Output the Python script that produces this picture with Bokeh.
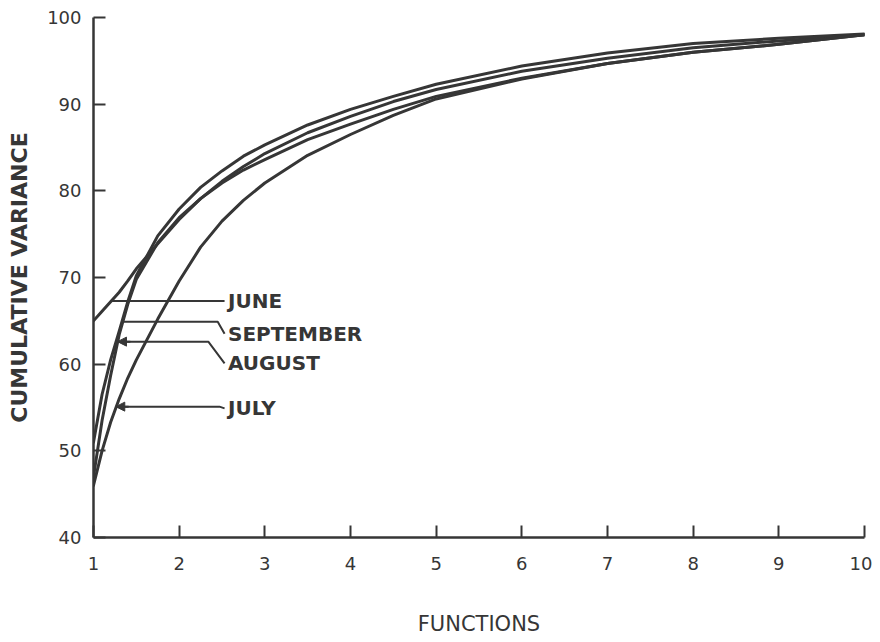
from bokeh.plotting import figure
from bokeh.models import Range1d, FixedTicker, Arrow, NormalHead, ColumnDataSource
from bokeh.core.properties import value
from bokeh.embed import file_html
from bokeh.resources import INLINE

# ---- data ----
functions = [1, 1.1, 1.2, 1.3, 1.4, 1.5, 1.75, 2, 2.25, 2.5, 2.75, 3, 3.5, 4, 4.5, 5, 6, 7, 8, 9, 10]
june = [65.0, 66.1, 67.2, 68.3, 69.6, 71.0, 73.9, 76.7, 79.1, 81.1, 82.8, 84.3, 86.7, 88.6, 90.3, 91.7, 93.8, 95.3, 96.5, 97.3, 98.0]
september = [51.0, 56.5, 60.5, 63.8, 67.2, 70.2, 74.8, 77.9, 80.4, 82.3, 84.0, 85.3, 87.6, 89.4, 90.9, 92.3, 94.4, 95.9, 97.0, 97.6, 98.1]
august = [47.0, 53.5, 58.7, 63.4, 66.9, 69.8, 74.0, 76.9, 79.1, 80.9, 82.4, 83.6, 85.9, 87.7, 89.4, 90.9, 93.0, 94.7, 96.0, 96.9, 98.0]
july = [46.0, 50.0, 53.3, 56.0, 58.4, 60.5, 65.2, 69.6, 73.5, 76.5, 78.9, 80.9, 84.1, 86.5, 88.7, 90.6, 92.9, 94.7, 96.0, 96.9, 98.0]

x_ticks = [1, 2, 3, 4, 5, 6, 7, 8, 9, 10]
y_ticks = [40, 50, 60, 70, 80, 90, 100]

month_labels = ["JUNE", "SEPTEMBER", "AUGUST", "JULY"]
# leader lines: where they touch the curve, the elbow, and the label anchor
pointer_start_x = [1.21, 1.34, 1.28, 1.26]
pointer_y = [67.3, 64.9, 62.6, 55.1]
pointer_elbow_x = [2.53, 2.45, 2.34, 2.47]
label_y = [67.3, 63.5, 60.1, 54.9]
label_x = 2.57
pointer_end_x = 2.53

INK = "#363636"

p = figure(
    frame_width=771, frame_height=520,
    min_border_left=93, min_border_right=8, min_border_top=17, min_border_bottom=105,
    x_range=Range1d(1, 10), y_range=Range1d(40, 100),
    output_backend="svg", toolbar_location=None,
    background_fill_color="white", border_fill_color="white",
)
p.outline_line_color = None
p.xgrid.visible = False
p.ygrid.visible = False

for series in (june, september, august, july):
    p.line(functions, series, line_color=INK, line_width=3, line_join="round", line_cap="round")

# leader lines
xs = []
ys = []
for sx, py, ex, ly in zip(pointer_start_x, pointer_y, pointer_elbow_x, label_y):
    xs.append([sx, ex, pointer_end_x])
    ys.append([py, py, ly])
p.multi_line(xs, ys, line_color=INK, line_width=2)

for i in (2, 3):
    p.add_layout(Arrow(
        x_start=pointer_start_x[i] + 0.15, y_start=pointer_y[i],
        x_end=pointer_start_x[i], y_end=pointer_y[i],
        line_color=INK, line_width=2,
        end=NormalHead(size=9, fill_color=INK, line_color=INK),
    ))

src = ColumnDataSource(dict(x=[label_x] * len(month_labels), y=label_y, text=month_labels))
p.text(x="x", y="y", text="text", source=src,
       text_font=value("DejaVu Sans"), text_font_style="bold", text_font_size="20px",
       text_color=INK, text_align="left", text_baseline="middle")

# axes
for ax in (p.xaxis[0], p.yaxis[0]):
    ax.axis_line_color = INK
    ax.axis_line_width = 2.5
    ax.major_tick_line_color = INK
    ax.major_tick_line_width = 2
    ax.major_tick_in = 12
    ax.major_tick_out = 0
    ax.minor_tick_line_color = None
    ax.major_label_text_font = "DejaVu Sans"
    ax.major_label_text_font_size = "18px"
    ax.major_label_text_color = INK
    ax.axis_label_text_color = INK
    ax.axis_label_text_font = "DejaVu Sans"

p.xaxis.ticker = FixedTicker(ticks=x_ticks)
p.yaxis.ticker = FixedTicker(ticks=y_ticks)
p.xaxis.major_label_standoff = 19
p.yaxis.major_label_standoff = 12

p.xaxis.axis_label = "FUNCTIONS"
p.xaxis.axis_label_text_font_size = "21px"
p.xaxis.axis_label_text_font_style = "normal"
p.xaxis.axis_label_standoff = 39

p.yaxis.axis_label = "CUMULATIVE VARIANCE"
p.yaxis.axis_label_text_font_size = "22px"
p.yaxis.axis_label_text_font_style = "bold"
p.yaxis.axis_label_standoff = 12

open("out.html", "w").write(file_html(p, INLINE))
